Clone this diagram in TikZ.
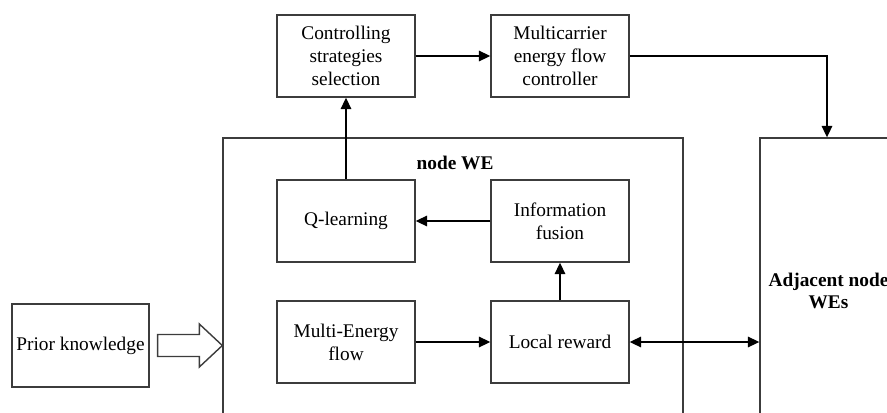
\documentclass[tikz,border=0pt]{standalone}
\usepackage{fontspec}
\setmainfont{Liberation Serif}
\usetikzlibrary{arrows.meta,calc}
\definecolor{LineGray}{RGB}{60,60,60}

\tikzset{
  block/.style={draw=LineGray, line width=0.8pt, minimum width=2.76cm,
    minimum height=1.64cm, align=center, inner sep=2pt,
    font=\fontsize{11}{13}\selectfont},
  frame/.style={draw=LineGray, line width=0.8pt},
  flow/.style={draw=black, line width=0.8pt, -{Triangle[length=6.5pt,width=6pt]}},
}

\begin{document}
\begin{tikzpicture}[x=0.02cm,y=-0.02cm]
          \useasboundingbox (0,0) rectangle (887,413);
          \clip (0,0) rectangle (887,413);
          % frames
          \node[frame, minimum width=9.2cm, minimum height=5.84cm] (we) at (453,284) {};
          \node[font=\fontsize{11}{13}\selectfont\bfseries] (welabel) at (455,163) {node WE};
          \node[frame, minimum width=2.68cm, minimum height=5.84cm] (adj) at (827,284) {};
          \node[font=\fontsize{11}{13}\selectfont\bfseries, align=center] (adjlabel) at (828.5,291) {Adjacent node\\WEs};
          % blocks
          \node[block] (ctrl) at (346,56) {Controlling\\strategies\\selection};
          \node[block] (multi) at (560,56) {Multicarrier\\energy flow\\controller};
          \node[block] (qlearn) at (346,221) {Q-learning};
          \node[block] (info) at (560,221) {Information\\fusion};
          \node[block] (multien) at (346,342) {Multi-Energy\\flow};
          \node[block] (local) at (560,342) {Local reward};
          \node[block, minimum width=2.74cm, minimum height=1.66cm] (prior) at (80.5,345.5) {Prior knowledge};
          % straight arrows
          \draw[flow] (qlearn) -- (ctrl);
          \draw[flow] (ctrl) -- (multi);
          \draw[flow] (info) -- (qlearn);
          \draw[flow] (local) -- (info);
          \draw[flow] (multien) -- (local);
          % bent and double arrows
          \draw[flow] (multi.east) -| (adj.north);
          \draw[flow, {Triangle[length=6.5pt,width=6pt]}-{Triangle[length=6.5pt,width=6pt]}] (local.east) -- (local.east -| adj.west);
          % hollow arrow
          \draw[draw=LineGray, line width=0.8pt, fill=white]
            ($(prior.east)+(8,-11)$) -- ($(we.west |- prior.east)+(-23,-11)$)
            -- ($(we.west |- prior.east)+(-23,-21.5)$) -- (we.west |- prior.east)
            -- ($(we.west |- prior.east)+(-23,21.5)$) -- ($(we.west |- prior.east)+(-23,11)$)
            -- ($(prior.east)+(8,11)$) -- cycle;
\end{tikzpicture}
\end{document}
